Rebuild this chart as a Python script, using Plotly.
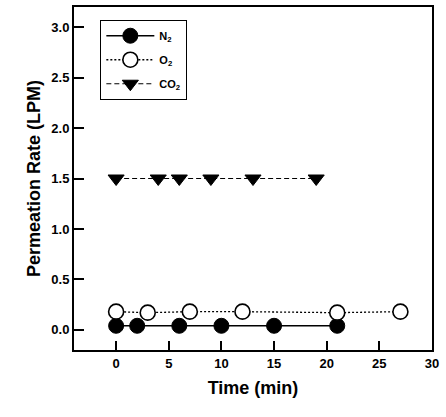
import plotly.graph_objects as go

# data
n2_time = [0, 2, 6, 10, 15, 21]
n2_rate = [0.04, 0.04, 0.04, 0.04, 0.04, 0.04]

o2_time = [0, 3, 7, 12, 21, 27]
o2_rate = [0.18, 0.17, 0.18, 0.18, 0.17, 0.18]

co2_time = [0, 4, 6, 9, 13, 19]
co2_rate = [1.5, 1.5, 1.5, 1.5, 1.5, 1.5]

x_ticks = [0, 5, 10, 15, 20, 25, 30]
y_ticks = [0.0, 0.5, 1.0, 1.5, 2.0, 2.5, 3.0]

FONT = "Liberation Sans, Arial, sans-serif"

fig = go.Figure()

fig.add_trace(go.Scatter(
    x=n2_time, y=n2_rate, mode="lines+markers", name="N<sub>2</sub>",
    legendgroup="n2",
    line=dict(color="black", width=1.5, dash="solid"),
    marker=dict(symbol="circle", size=15, color="black",
                line=dict(color="black", width=1)),
))

fig.add_trace(go.Scatter(
    x=o2_time, y=o2_rate, mode="lines+markers", name="O<sub>2</sub>",
    legendgroup="o2",
    line=dict(color="black", width=1.3, dash="2px,2px"),
    marker=dict(symbol="circle", size=15, color="white",
                line=dict(color="black", width=1.6)),
))

fig.add_trace(go.Scatter(
    x=co2_time, y=co2_rate, mode="lines+markers", name="CO<sub>2</sub>",
    legendgroup="co2",
    line=dict(color="black", width=1.2, dash="5px,3px"),
    marker=dict(symbol="triangle-down", size=14, color="black",
                line=dict(color="black", width=1)),
))

fig.update_layout(
    width=446, height=417,
    margin=dict(l=74, r=14, t=5, b=67),
    paper_bgcolor="white", plot_bgcolor="white",
    font=dict(family=FONT, color="black"),
    showlegend=True,
    legend=dict(
        x=0.073, y=0.962, xanchor="left", yanchor="top",
        bordercolor="black", borderwidth=1.2, bgcolor="white",
        font=dict(size=11, family=FONT, color="black", weight="bold"),
        itemwidth=48, tracegroupgap=5,
    ),
    xaxis=dict(
        range=[-4, 30], tickvals=x_ticks,
        showline=True, linecolor="black", linewidth=2, mirror=True,
        ticks="inside", ticklen=9, tickwidth=1.5, tickcolor="black",
        showgrid=False, zeroline=False,
        tickfont=dict(size=13, family=FONT, weight="bold"),
        title=dict(text="<b>Time (min)</b>", font=dict(size=18, family=FONT),
                   standoff=12),
    ),
    yaxis=dict(
        range=[-0.2, 3.2], tickvals=y_ticks, tickformat=".1f",
        showline=True, linecolor="black", linewidth=2, mirror=True,
        ticks="inside", ticklen=10, tickwidth=1.5, tickcolor="black",
        showgrid=False, zeroline=False,
        tickfont=dict(size=13, family=FONT, weight="bold"),
        title=dict(text="<b>Permeation Rate (LPM)</b>",
                   font=dict(size=18, family=FONT), standoff=6),
    ),
)

fig.write_html("out.html", config={"displayModeBar": False},
               post_script="document.body.style.margin='0';")
